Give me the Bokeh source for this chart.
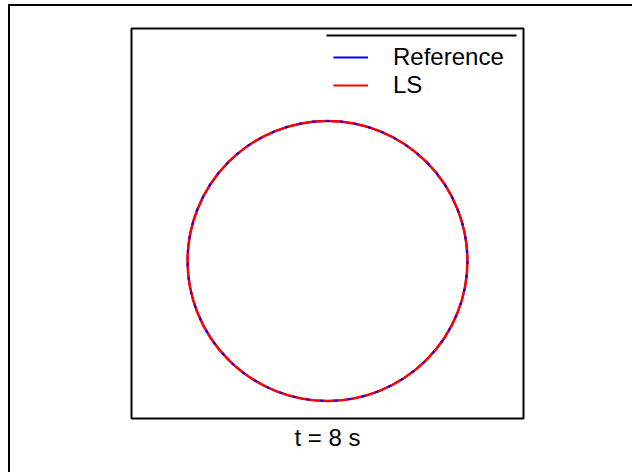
from bokeh.plotting import figure
from bokeh.models import Legend, LegendItem, BoxAnnotation
from bokeh.embed import file_html
from bokeh.resources import INLINE

# Interface at t = 8 s: analytic reference circle and the level-set (LS) contour
series_names = ["Reference", "LS"]
center_x = [0.5]
center_y = [0.404]
ref_radius = [0.357]
ls_radius = [0.357]
title_text = "t = 8 s"

BLUE = "#0000ff"
RED = "#ff0000"
FONT = "Liberation Sans"

p = figure(
    width=624, height=468,
    x_range=(0, 1), y_range=(0, 1),
    output_backend="svg", toolbar_location=None,
    min_border_left=121, min_border_right=111,
    min_border_top=22, min_border_bottom=56,
    title=title_text, title_location="below",
)
p.margin = (4, 0, 0, 8)
p.styles = {"border-top": "2px solid black", "border-left": "2px solid black"}

p.title.align = "center"
p.title.offset = -9
p.title.text_font = FONT
p.title.text_font_size = "24px"
p.title.text_font_style = "normal"
p.title.text_color = "black"
p.title.standoff = 6

p.axis.visible = False
p.xgrid.visible = False
p.ygrid.visible = False
p.outline_line_color = "black"
p.outline_line_width = 2
p.background_fill_color = "white"
p.border_fill_color = "white"

# reference circle underneath, LS contour on top, with the reference peeking through
p.circle(center_x, center_y, radius=ref_radius, fill_alpha=0,
         line_color=BLUE, line_width=2)
p.circle(center_x, center_y, radius=ls_radius, fill_alpha=0,
         line_color=RED, line_width=2.5)
p.circle(center_x, center_y, radius=ref_radius, fill_alpha=0,
         line_color=BLUE, line_width=2, line_dash="3 11")

# legend swatches (off-range points, only their key is shown)
nan = float("nan")
ref_key = p.line([nan], [nan], line_color=BLUE, line_width=2)
ls_key = p.line([nan], [nan], line_color=RED, line_width=2)

legend = Legend(
    items=[LegendItem(label=series_names[0], renderers=[ref_key]),
           LegendItem(label=series_names[1], renderers=[ls_key])],
    location="top_right",
    margin=5, padding=10, spacing=0,
    glyph_width=35, glyph_height=18, label_height=18,
    label_width=115, label_standoff=25,
    label_text_font=FONT, label_text_font_size="24px",
    label_text_color="black",
    border_line_alpha=0, background_fill_alpha=0,
)
p.add_layout(legend)

# rule along the top edge of the legend box
p.add_layout(BoxAnnotation(
    left=314, right=504, top=26, bottom=28,
    left_units="canvas", right_units="canvas",
    top_units="canvas", bottom_units="canvas",
    fill_color="black", fill_alpha=1, line_alpha=0,
))

open("out.html", "w").write(file_html(p, INLINE))
